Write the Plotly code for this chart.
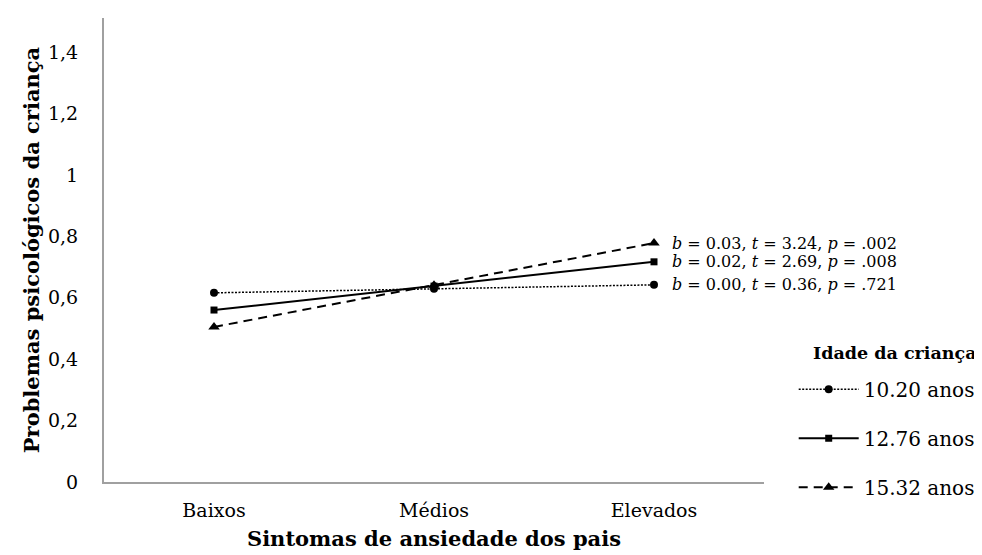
import plotly.graph_objects as go

categories = ["Baixos", "Médios", "Elevados"]
series_names = ["10.20 anos", "12.76 anos", "15.32 anos"]
values_1020 = [0.616, 0.629, 0.642]
values_1276 = [0.560, 0.638, 0.717]
values_1532 = [0.505, 0.641, 0.778]
slope_labels = [
    "<i>b</i> = 0.00, <i>t</i> = 0.36, <i>p</i> = .721",
    "<i>b</i> = 0.02, <i>t</i> = 2.69, <i>p</i> = .008",
    "<i>b</i> = 0.03, <i>t</i> = 3.24, <i>p</i> = .002",
]
legend_title = "Idade da criança"
y_tickvals = [0, 0.2, 0.4, 0.6, 0.8, 1.0, 1.2, 1.4]
y_ticktext = ["0", "0,2", "0,4", "0,6", "0,8", "1", "1,2", "1,4"]

FONT = "DejaVu Serif"
all_values = [values_1020, values_1276, values_1532]
dashes = ["2px,1.5px", "solid", "9px,6px"]
widths = [1.5, 2, 2]
symbols = ["circle", "square", "triangle-up"]
msizes = [8, 7, 10]

fig = go.Figure()
for i, (name, vals) in enumerate(zip(series_names, all_values)):
    fig.add_trace(go.Scatter(
        x=categories, y=vals, name=name, mode="lines+markers",
        line=dict(color="black", width=widths[i], dash=dashes[i]),
        marker=dict(symbol=symbols[i], size=msizes[i], color="black"),
        legendgroup=name,
    ))

for vals, txt in zip(all_values, slope_labels):
    fig.add_annotation(
        x=categories[-1], y=vals[-1], text=txt, showarrow=False,
        xanchor="left", yanchor="middle", xshift=16,
        font=dict(family=FONT, size=16, color="black"),
    )

fig.add_annotation(
    xref="paper", yref="paper", x=1.324, y=0.278,
    text="<b>" + legend_title + "</b>", showarrow=False,
    xanchor="right", yanchor="middle",
    font=dict(family=FONT, size=17.5, color="black"),
)

fig.update_layout(
    width=982, height=555,
    margin=dict(l=96, r=226, t=10, b=81),
    paper_bgcolor="white", plot_bgcolor="white",
    font=dict(family=FONT, size=19, color="black"),
    showlegend=True,
    legend=dict(
        x=1.045, xanchor="left", y=0.242, yanchor="top",
        itemwidth=60, tracegroupgap=20, traceorder="grouped",
        font=dict(family=FONT, size=20),
    ),
    xaxis=dict(
        type="category", range=[-0.5, 2.5],
        showline=True, linecolor="#a0a0a0", linewidth=2,
        showgrid=False, zeroline=False,
        ticks="outside", ticklen=10, tickcolor="rgba(0,0,0,0)",
        tickfont=dict(family=FONT, size=19),
        title=dict(text="<b>Sintomas de ansiedade dos pais</b>", standoff=12,
                   font=dict(family=FONT, size=21)),
    ),
    yaxis=dict(
        range=[0, 1.511], tickvals=y_tickvals, ticktext=y_ticktext,
        showline=True, linecolor="#a0a0a0", linewidth=2,
        showgrid=False, zeroline=False,
        ticks="outside", ticklen=20, tickcolor="rgba(0,0,0,0)",
        tickfont=dict(family=FONT, size=19),
        title=dict(text="<b>Problemas psicológicos da criança</b>", standoff=3,
                   font=dict(family=FONT, size=21)),
    ),
)

fig.write_html("out.html")
